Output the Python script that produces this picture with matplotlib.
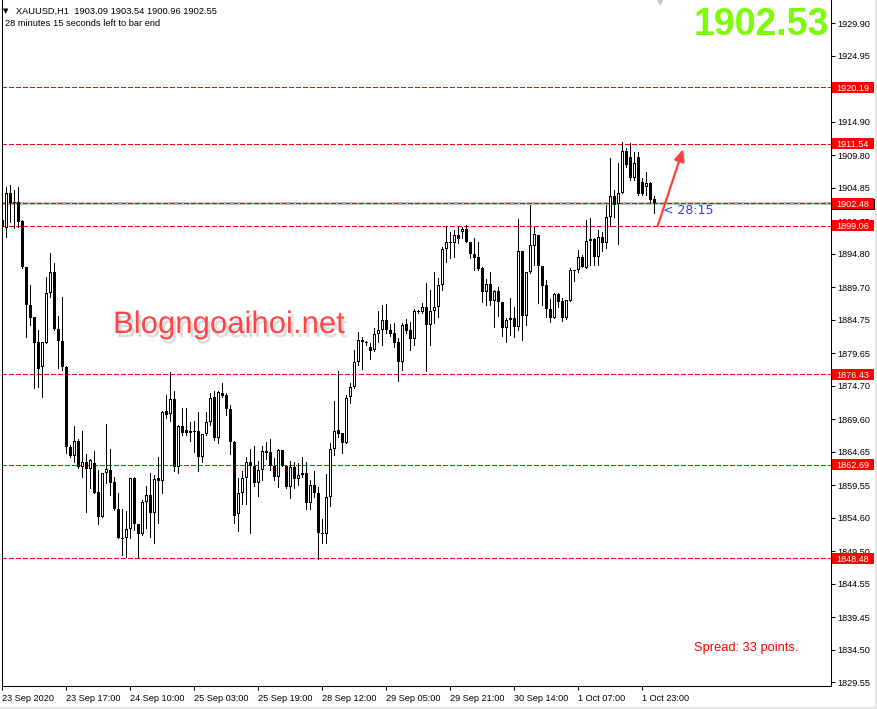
import matplotlib
matplotlib.use("Agg")
import matplotlib.pyplot as plt
import matplotlib.patheffects as pe
import matplotlib.transforms as mtransforms
from matplotlib.patches import Rectangle
import numpy as np

plt.rcParams['font.family'] = ['Liberation Sans', 'DejaVu Sans']

# ---------------- data ----------------
symbol = "XAUUSD,H1"
opens = [1899.94, 1898.73, 1904.06, 1902.53, 1902.69, 1899.79, 1892.79, 1887.00, 1885.18, 1881.37,
         1877.56, 1881.22, 1888.83, 1892.03, 1883.35, 1881.52, 1877.56, 1865.38, 1864.01, 1866.30,
         1862.34, 1863.10, 1862.03, 1862.95, 1858.53, 1854.73, 1861.43, 1861.88, 1860.06, 1855.94,
         1851.53, 1851.53, 1852.90, 1860.66, 1853.66, 1852.14, 1857.01, 1858.08, 1855.34, 1860.66,
         1860.21, 1870.87, 1870.41, 1872.69, 1862.34, 1868.58, 1867.97, 1867.52, 1867.67, 1867.82,
         1863.86, 1867.36, 1869.19, 1873.00, 1866.75, 1873.61, 1873.30, 1871.17, 1866.15, 1855.18,
         1858.38, 1860.66, 1863.10, 1862.49, 1859.90, 1861.88, 1864.78, 1864.62, 1862.49, 1860.82,
         1864.93, 1862.49, 1859.29, 1862.34, 1860.51, 1861.43, 1861.43, 1856.86, 1859.60, 1858.38,
         1852.29, 1852.14, 1857.77, 1865.08, 1867.97, 1867.52, 1865.99, 1873.00, 1874.52, 1878.33,
         1881.67, 1881.37, 1880.61, 1880.15, 1882.59, 1883.20, 1884.72, 1883.20, 1882.74, 1881.37,
         1878.33, 1884.11, 1883.20, 1881.83, 1885.94, 1885.94, 1886.70, 1883.96, 1886.09, 1886.70,
         1890.05, 1895.53, 1896.60, 1896.44, 1897.66, 1898.12, 1898.57, 1896.60, 1894.77, 1894.31,
         1892.64, 1888.98, 1890.20, 1887.61, 1889.14, 1887.46, 1883.50, 1884.72, 1885.02, 1883.65,
         1895.23, 1885.33, 1892.03, 1895.99, 1897.66, 1892.94, 1890.05, 1886.39, 1885.02, 1888.68,
         1887.61, 1885.02, 1887.61, 1892.33, 1892.33, 1894.31, 1892.64, 1896.75, 1897.05, 1894.31,
         1897.36, 1896.44, 1900.40, 1903.60, 1902.38, 1904.06, 1910.45, 1909.54, 1906.34, 1909.54,
         1905.73, 1904.97, 1905.58, 1903.09]
highs = [1901.47, 1904.97, 1905.27, 1904.51, 1904.97, 1899.94, 1892.79, 1890.05, 1885.18, 1883.20,
         1881.37, 1891.27, 1894.92, 1893.40, 1885.33, 1888.22, 1877.72, 1865.69, 1868.58, 1866.60,
         1867.82, 1864.32, 1863.56, 1864.78, 1861.88, 1861.43, 1868.89, 1865.08, 1860.82, 1858.38,
         1855.94, 1855.64, 1860.66, 1860.82, 1853.66, 1857.31, 1859.45, 1861.43, 1861.12, 1863.86,
         1870.87, 1873.30, 1876.80, 1873.91, 1868.73, 1871.32, 1871.32, 1869.19, 1869.34, 1870.71,
         1867.36, 1870.71, 1873.61, 1873.91, 1873.91, 1875.13, 1873.61, 1871.78, 1866.30, 1860.66,
         1861.73, 1863.86, 1865.08, 1865.54, 1863.25, 1865.54, 1866.15, 1866.60, 1863.71, 1865.08,
         1864.93, 1862.49, 1863.25, 1863.10, 1862.95, 1863.86, 1863.10, 1860.36, 1861.73, 1859.29,
         1854.42, 1861.27, 1865.99, 1872.39, 1876.96, 1867.52, 1873.30, 1875.13, 1880.15, 1882.89,
         1882.13, 1881.52, 1881.22, 1883.50, 1886.09, 1887.00, 1887.16, 1884.11, 1884.26, 1881.98,
         1884.26, 1884.87, 1884.42, 1886.39, 1886.24, 1887.31, 1890.35, 1889.29, 1892.03, 1891.11,
         1895.83, 1898.88, 1898.12, 1898.42, 1898.88, 1898.88, 1899.18, 1896.60, 1897.20, 1896.60,
         1892.79, 1890.96, 1892.03, 1889.29, 1889.74, 1887.46, 1885.02, 1888.07, 1886.70, 1900.10,
         1895.23, 1892.03, 1902.23, 1898.88, 1897.66, 1892.94, 1890.81, 1887.92, 1888.83, 1888.83,
         1888.07, 1887.76, 1892.64, 1892.33, 1895.38, 1894.62, 1899.94, 1900.25, 1897.20, 1898.42,
         1898.12, 1902.23, 1909.38, 1904.51, 1908.62, 1911.82, 1910.91, 1911.67, 1910.30, 1910.30,
         1906.34, 1907.25, 1905.73, 1903.54]
lows = [1897.97, 1897.36, 1899.64, 1898.73, 1898.88, 1892.64, 1882.13, 1883.96, 1874.37, 1874.52,
        1873.00, 1881.22, 1888.22, 1883.20, 1877.41, 1877.11, 1864.47, 1863.86, 1863.10, 1862.19,
        1860.82, 1855.49, 1859.14, 1858.38, 1853.66, 1854.73, 1859.90, 1858.08, 1855.79, 1851.53,
        1848.94, 1848.64, 1851.53, 1852.75, 1848.64, 1851.99, 1853.05, 1851.68, 1850.77, 1853.81,
        1858.38, 1869.80, 1869.34, 1861.73, 1861.43, 1867.21, 1867.21, 1866.30, 1864.62, 1861.73,
        1863.10, 1867.21, 1868.73, 1866.45, 1865.99, 1873.00, 1870.26, 1864.32, 1853.81, 1852.60,
        1856.71, 1856.71, 1852.29, 1859.45, 1857.92, 1860.36, 1863.56, 1861.88, 1860.36, 1859.29,
        1862.49, 1859.14, 1857.62, 1859.14, 1859.60, 1860.82, 1855.94, 1855.94, 1857.77, 1848.33,
        1850.77, 1850.77, 1856.40, 1864.17, 1866.91, 1864.47, 1865.99, 1872.08, 1874.37, 1877.87,
        1877.26, 1880.91, 1878.78, 1880.00, 1881.37, 1880.91, 1882.74, 1882.28, 1880.61, 1875.43,
        1877.11, 1882.74, 1880.15, 1880.91, 1885.79, 1885.79, 1876.96, 1880.91, 1884.26, 1885.18,
        1889.29, 1893.55, 1894.16, 1894.31, 1896.44, 1897.20, 1896.60, 1894.16, 1892.33, 1892.33,
        1887.46, 1887.00, 1887.00, 1883.65, 1885.33, 1882.28, 1881.37, 1882.44, 1882.13, 1883.20,
        1881.67, 1883.96, 1891.88, 1893.09, 1887.31, 1887.00, 1885.18, 1884.42, 1885.02, 1886.70,
        1884.57, 1884.87, 1887.61, 1890.66, 1892.03, 1892.79, 1892.64, 1893.09, 1893.09, 1893.09,
        1895.22, 1895.68, 1899.03, 1900.40, 1896.29, 1904.06, 1908.01, 1906.03, 1906.03, 1903.75,
        1903.75, 1903.75, 1902.69, 1900.96]
closes = [1898.88, 1904.06, 1902.53, 1902.69, 1899.64, 1892.79, 1887.00, 1885.02, 1881.22, 1877.26,
          1881.37, 1888.83, 1892.03, 1883.35, 1881.52, 1877.56, 1865.38, 1864.01, 1866.30, 1862.34,
          1863.10, 1862.03, 1863.40, 1858.38, 1854.73, 1861.43, 1862.03, 1859.90, 1855.94, 1851.53,
          1851.38, 1852.90, 1860.66, 1853.66, 1852.14, 1857.01, 1858.08, 1855.34, 1860.51, 1860.21,
          1870.71, 1870.26, 1872.69, 1862.34, 1868.58, 1867.52, 1867.52, 1867.82, 1867.60, 1863.86,
          1867.36, 1869.19, 1872.84, 1866.75, 1873.76, 1873.15, 1871.17, 1866.15, 1854.88, 1858.38,
          1860.66, 1863.10, 1862.49, 1859.90, 1861.88, 1864.78, 1864.47, 1862.49, 1860.82, 1864.93,
          1862.49, 1859.29, 1862.34, 1860.51, 1861.12, 1861.12, 1856.86, 1859.60, 1858.38, 1852.29,
          1852.14, 1857.77, 1865.08, 1867.82, 1867.36, 1865.99, 1872.84, 1874.52, 1878.33, 1881.67,
          1881.37, 1881.22, 1880.00, 1882.59, 1883.20, 1884.72, 1883.20, 1882.59, 1881.22, 1878.33,
          1883.96, 1883.05, 1881.83, 1886.09, 1886.09, 1886.70, 1883.96, 1886.09, 1886.70, 1890.05,
          1895.53, 1896.60, 1896.44, 1897.66, 1897.05, 1898.57, 1896.65, 1894.77, 1894.16, 1892.48,
          1888.98, 1890.20, 1887.61, 1889.14, 1887.46, 1883.50, 1884.72, 1885.02, 1883.65, 1895.23,
          1885.33, 1892.03, 1896.14, 1897.81, 1892.94, 1889.90, 1886.39, 1885.02, 1888.68, 1887.46,
          1885.02, 1887.76, 1892.33, 1892.25, 1894.31, 1892.79, 1896.75, 1897.05, 1894.31, 1897.36,
          1896.44, 1900.40, 1903.60, 1902.23, 1904.06, 1910.45, 1908.32, 1906.34, 1908.62, 1903.90,
          1903.90, 1905.58, 1902.99, 1902.55]

levels = [1920.19, 1911.54, 1902.48, 1899.06, 1876.43, 1862.69, 1848.48]
bid = 1902.55
big_price = "1902.53"
ohlc_header = "1903.09 1903.54 1900.96 1902.55"
timer_text = "28 minutes 15 seconds left to bar end"
spread_text = "Spread: 33 points."
countdown = "< 28:15"
watermark = "Blogngoaihoi.net"

ytick_values = [1929.90, 1924.95, 1920.00, 1914.90, 1909.80, 1904.85, 1899.75, 1894.80, 1889.70,
                1884.75, 1879.65, 1874.70, 1869.60, 1864.65, 1859.55, 1854.60, 1849.50, 1844.55,
                1839.45, 1834.50, 1829.55]
xtick_index = [0, 16, 32, 48, 64, 80, 96, 112, 128, 144, 160]
xtick_labels = ["23 Sep 2020", "23 Sep 17:00", "24 Sep 10:00", "25 Sep 03:00", "25 Sep 19:00",
                "28 Sep 12:00", "29 Sep 05:00", "29 Sep 21:00", "30 Sep 14:00", "1 Oct 07:00",
                "1 Oct 23:00"]

# ---------------- layout ----------------
W, H = 877, 709
fig = plt.figure(figsize=(W / 100, H / 100), dpi=100)
fig.patch.set_facecolor('white')
L, R, T, B = 2, 831, 0, 686
ax = fig.add_axes([L / W, (H - B) / H, (R - L) / W, (B - T) / H])
ax.set_facecolor('white')

px_per_bar = 4.0
ax.set_xlim(-0.3 / px_per_bar, (R - L - 0.3) / px_per_bar)
ax.set_ylim(1829.00, 1933.44)
yunit = (1933.44 - 1829.00) / (B - T)   # price per pixel

o = np.array(opens); h = np.array(highs); lo = np.array(lows); c = np.array(closes)
n = len(o)
x = np.arange(n)

# wicks
ax.vlines(x, lo, h, color='black', lw=0.72, zorder=3, antialiased=False)
# bodies: outer black, inner white for bullish candles
top = np.maximum(o, c)
bot = np.minimum(o, c)
hgt = np.maximum(top - bot, yunit)
ax.bar(x, hgt, bottom=bot, width=0.75, color='black', linewidth=0, zorder=4,
       antialiased=False)
bull = (c > o) & ((c - o) > 2.2 * yunit)
ax.bar(x[bull], (c - o)[bull] - 2 * yunit, bottom=o[bull] + yunit, width=0.25, color='white',
       linewidth=0, zorder=5, antialiased=False)

# bid line
ax.axhline(bid, color='#c0c0c0', lw=0.75, zorder=1, antialiased=False)
# horizontal levels
for v in levels:
    ax.axhline(v, color='#ff0000', lw=0.75, ls=(0, (4, 2.7)), zorder=2, antialiased=False)

# spines
for s in ['left', 'bottom', 'right']:
    ax.spines[s].set_color('black')
    ax.spines[s].set_linewidth(0.75)
ax.spines['top'].set_visible(False)

# y ticks on right
ax.yaxis.tick_right()
ax.set_yticks(ytick_values)
ax.set_yticklabels([f"{v:.2f}" for v in ytick_values])
ax.tick_params(axis='y', direction='out', length=3, width=0.75, pad=1.5,
               labelsize=6.6, colors='black')
# x ticks
ax.set_xticks(xtick_index)
ax.set_xticklabels(xtick_labels)
ax.tick_params(axis='x', direction='out', length=3, width=0.75, pad=2.5,
               labelsize=6.6, colors='black')
for lab in ax.get_xticklabels():
    lab.set_horizontalalignment('left')

# price labels on axis
trans = mtransforms.blended_transform_factory(ax.transAxes, ax.transData)
axw = R - L
box_h = 11 * yunit
ax.add_patch(Rectangle((1 + 1 / axw, bid - box_h / 2 - 1.3 * yunit), 44 / axw, box_h,
                       transform=trans, fc='black', ec='none', zorder=9, clip_on=False))
for v in levels:
    ax.add_patch(Rectangle((1 + 1 / axw, v - box_h / 2), 42 / axw, box_h, transform=trans,
                           fc='#ff0000', ec='none', zorder=10, clip_on=False))
    ax.text(1 + 5 / axw, v, f"{v:.2f}", transform=trans, ha='left', va='center_baseline',
            fontsize=6.6, color='white', zorder=11, clip_on=False)

# header texts
fig.text(3 / W, 1 - 11 / H, "\u25bc", fontsize=5, va='center', ha='left', color='black',
         family=['DejaVu Sans'])
fig.text(16 / W, 1 - 11 / H, f"{symbol}  {ohlc_header}", fontsize=6.7, va='center', ha='left')
fig.text(5 / W, 1 - 23 / H, timer_text, fontsize=6.7, va='center', ha='left')
fig.text(660 / W, 1 - 3 / H, "\u25bc", fontsize=6, va='center', ha='center', color='#c8c8c8',
         family=['DejaVu Sans'])

# big price
fig.text(829 / W, 1 - 25 / H, big_price, fontsize=27, fontweight='bold', color='#7CFC00',
         ha='right', va='center')

# watermark
ax.text((113 - L) / axw, (B - 333) / (B - T), watermark, transform=ax.transAxes,
        fontsize=22.4, color='#ff4545', ha='left', va='baseline', zorder=6,
        path_effects=[pe.SimplePatchShadow(offset=(2, -3), shadow_rgbFace='#999999', alpha=0.35),
                      pe.Normal()])

# countdown and spread
ax.text(n - 1 + 2.2, bid - 1.2, countdown, fontsize=9, color='#2a3cff', ha='left', va='center',
        zorder=6, family=['DejaVu Sans'])
ax.text((694 - L) / axw, (B - 648) / (B - T), spread_text, transform=ax.transAxes,
        fontsize=9.3, color='#ff0000', ha='left', va='center')

# arrow
ax.annotate('', xy=(n - 1 + 7.2, levels[1] - 0.8), xytext=(n - 1 + 0.85, levels[3]),
            arrowprops=dict(arrowstyle='-|>,head_length=0.7,head_width=0.3', color='#ff4040',
                            lw=1.6, shrinkA=0, shrinkB=0,
                            path_effects=[pe.SimplePatchShadow(offset=(1.5, -1.5),
                                                               shadow_rgbFace='#999999', alpha=0.5),
                                          pe.Normal()]),
            zorder=7)

# window border bits
fig.patches.append(Rectangle((0, 0), 1, 2.5 / H, transform=fig.transFigure, fc='#e6e6e6',
                             ec='none', zorder=0))
fig.patches.append(Rectangle((875 / W, 0), 2 / W, 1, transform=fig.transFigure, fc='#e6e6e6',
                             ec='none', zorder=0))

fig.savefig('out.png', dpi=100, facecolor='white')
